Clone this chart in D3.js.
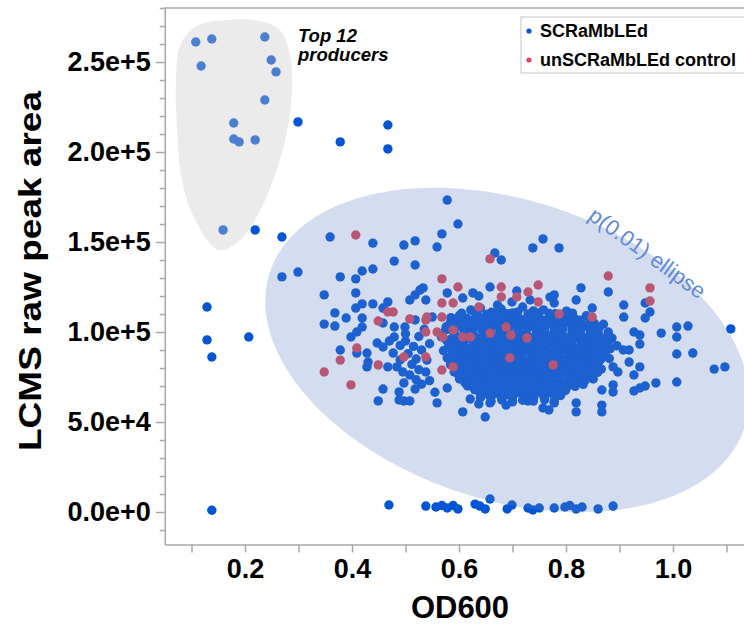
<!DOCTYPE html>
<html>
<head>
<meta charset="utf-8">
<script src="https://cdn.jsdelivr.net/npm/d3@7"></script>
<style>
html,body{margin:0;padding:0;background:#fff;}
svg{display:block;}
text{font-family:"Liberation Sans",Arial,Helvetica,sans-serif;}
</style>
</head>
<body>
<svg id="chart" width="744" height="628"></svg>
<script>
// ---------------- DATA ----------------
const xTickValues = [0.2, 0.4, 0.6, 0.8, 1.0];
const xTickLabels = ["0.2", "0.4", "0.6", "0.8", "1.0"];
const yTickValues = [0, 50000, 100000, 150000, 200000, 250000];
const yTickLabels = ["0.0e+0", "5.0e+4", "1.0e+5", "1.5e+5", "2.0e+5", "2.5e+5"];
const seriesNames = ["SCRaMbLEd", "unSCRaMbLEd control"];

// top 12 producers (SCRaMbLEd strains)
const topProducers = [
  [0.108,261100],[0.138,262800],[0.237,263900],[0.118,247800],[0.249,251100],[0.258,244500],
  [0.237,228900],[0.179,216100],[0.179,207200],[0.189,205600],[0.219,206700],[0.159,156700]
];

// remaining SCRaMbLEd strains: [OD600, LCMS raw peak area]
const scrambled = [
  // outliers
  [0.299,216700],[0.378,205600],[0.467,215000],[0.467,201700],[0.219,156700],[0.269,152800],
  [0.129,113900],[0.129,95600],[0.138,86100],[0.207,97200],[0.138,1000],
  // non-producers
  [0.469,3900],[0.538,3300],[0.557,2800],[0.568,3600],[0.578,2200],[0.589,3600],[0.598,1700],
  [0.630,4400],[0.639,3300],[0.649,1700],[0.658,7200],[0.690,1700],[0.699,3900],[0.729,2200],
  [0.738,1100],[0.750,2200],[0.778,2200],[0.798,2800],[0.807,3600],[0.819,1700],[0.830,2800],
  [0.860,1700],[0.888,3300],
  // upper sparse
  [0.578,173300],[0.598,160000],[0.568,154500],[0.559,147200],[0.757,151700],[0.738,146700],
  [0.787,146700],[0.667,143900],[0.679,140000],[0.359,152800],[0.439,149400],[0.497,148300],
  [0.518,150600],[0.479,139400],[0.518,137200],[0.439,135000],[0.419,133900],[0.407,129500],
  [0.378,130600],[0.299,133300],[0.269,130600],
  // left sparse
  [0.348,120600],[0.407,121700],[0.368,110600],[0.389,107800],[0.348,104400],[0.368,103300],
  [0.419,107800],[0.407,113300],[0.419,115600],[0.439,115600],[0.467,116700],[0.458,113300],
  [0.533,124500],[0.527,123300],[0.518,120600],[0.508,117800],[0.578,121700],[0.607,118900],
  [0.538,117800],[0.458,105000],[0.398,97200],[0.409,100000],[0.419,102800],[0.378,90000],
  [0.409,88300],[0.428,88300],[0.430,83300],[0.428,80600],[0.447,93900],[0.458,91700],
  [0.477,88300],[0.467,80600],[0.484,80600],[0.495,77800],[0.508,76100],[0.497,71700],
  [0.458,68300],[0.488,66700],[0.449,61700],[0.488,62200],[0.497,61700],[0.508,61700],
  [0.518,68300],[0.559,60600],[0.607,55600],[0.649,52800],[0.538,77800],[0.540,84400],
  [0.479,97200],[0.479,102800],[0.499,102800],[0.518,106700],[0.550,108300],[0.578,102800],
  [0.621,62800],[0.637,60000],[0.658,60600],[0.688,59400],[0.729,61700],[0.578,68900],
  [0.500,95000],[0.515,92000],[0.525,97500],[0.505,88000],[0.520,85000],[0.530,90000],
  [0.512,82000],[0.525,79000],[0.545,93500],[0.535,101500],[0.490,92500],[0.545,73000],
  [0.530,71000],[0.555,66500],[0.520,73500],[0.500,99000],[0.470,95000],[0.490,84500],
  [0.626,121700],[0.637,120000],[0.672,115000],[0.699,116700],[0.733,117800],[0.770,119400],
  [0.778,116100],
  // right sparse
  [0.658,125000],[0.708,122800],[0.828,124500],[0.819,117800],[0.849,113300],[0.879,122200],
  [0.948,116100],[0.957,111100],[0.948,107800],[0.908,115000],[0.908,108300],[0.778,120600],
  [1.108,101700],[0.978,99400],[1.007,102800],[1.028,103300],[1.007,97200],[1.007,87800],
  [1.037,88300],[1.077,79400],[1.097,80600],[1.007,72200],[0.968,71700],[0.948,70000],
  [0.938,68900],[0.927,67200],[0.927,76100],[0.938,80600],[0.918,83300],[0.918,90000],
  [0.938,93300],[0.927,100000],[0.938,98300],[0.907,90000],[0.888,80600],[0.897,77800],
  [0.888,70600],[0.888,66700],[0.867,67800],[0.867,59400],[0.867,55600],[0.819,60600],
  [0.819,55600],[0.757,57800],[0.768,56700],[0.778,60600],
  // dense core
  [0.622,112200],[0.640,113300],[0.661,111000],[0.679,112800],[0.700,110600],[0.719,113900],
  [0.739,111700],[0.758,112300],[0.780,110100],[0.801,111600],
  [0.605,110400],[0.630,110900],[0.652,109900],[0.671,110700],[0.690,110200],[0.710,111200],
  [0.729,110000],[0.749,110600],[0.769,110300],[0.790,109800],[0.812,110500],
  [0.585,108000],[0.601,109200],[0.615,107500],[0.636,108800],[0.649,107200],[0.668,109500],
  [0.683,107900],[0.703,108600],[0.716,107000],[0.736,109100],[0.750,107600],[0.770,108900],
  [0.784,107300],[0.803,108400],[0.818,107100],[0.838,109000],
  [0.592,106900],[0.608,105900],[0.626,106600],[0.643,106100],[0.660,106800],
  [0.675,105800],[0.694,106500],[0.710,106000],[0.727,106700],[0.743,105900],[0.760,106600],
  [0.777,106200],[0.795,106800],[0.811,105900],[0.828,106500],[0.846,106100],
  [0.584,105300],[0.599,103800],[0.618,104900],[0.633,103500],[0.652,105100],
  [0.666,104200],[0.686,103600],[0.700,105000],[0.719,104100],[0.734,103300],[0.752,105200],
  [0.767,104500],[0.787,103700],[0.801,105000],[0.820,104000],[0.835,103400],[0.853,104800],
  [0.870,104300],
  [0.576,102900],[0.592,101900],[0.610,102700],[0.626,102100],[0.644,102800],
  [0.660,101800],[0.677,102600],[0.693,102200],[0.709,102900],[0.727,101900],[0.743,102500],
  [0.760,102000],[0.778,102700],[0.794,101800],[0.812,102400],[0.828,102000],[0.844,102700],
  [0.862,102100],
  [0.575,101200],[0.590,99800],[0.609,100900],[0.624,100100],[0.642,101500],
  [0.657,100300],[0.676,99700],[0.691,101000],[0.710,100500],[0.725,99600],[0.744,101300],
  [0.759,100200],[0.777,99900],[0.792,101100],[0.811,100600],[0.826,99500],[0.845,100800],
  [0.860,101400],[0.879,100000],
  [0.593,98000],[0.610,98700],[0.628,98200],[0.645,98900],
  [0.660,98000],[0.678,98600],[0.694,98300],[0.711,98900],[0.727,97900],[0.745,98600],
  [0.761,98100],[0.778,98800],[0.795,97900],[0.812,98500],[0.829,98000],[0.846,98700],
  [0.862,98200],[0.879,98600],
  [0.567,97300],[0.584,95900],[0.600,96800],[0.617,97500],[0.634,96200],
  [0.650,96900],[0.668,95800],[0.683,97100],[0.701,96400],[0.717,95700],[0.735,97000],
  [0.750,96300],[0.769,97400],[0.784,95900],[0.802,96700],[0.818,97200],[0.836,96000],
  [0.852,96900],[0.870,95600],[0.886,96600],
  [0.577,95200],[0.593,94200],[0.610,94900],[0.627,94300],[0.644,95000],
  [0.660,94100],[0.677,94800],[0.693,94400],[0.710,95000],[0.727,94100],[0.744,94700],
  [0.760,94300],[0.777,95000],[0.794,94200],[0.811,94800],[0.828,94400],[0.845,94900],
  [0.861,94100],[0.879,94700],
  [0.591,92000],[0.607,93100],[0.626,92300],[0.641,93700],
  [0.659,92600],[0.674,91900],[0.693,93300],[0.708,92400],[0.727,93500],[0.742,92100],
  [0.761,92900],[0.776,93600],[0.794,92200],[0.810,92800],[0.828,93300],[0.843,92000],
  [0.862,92700],[0.877,93500],[0.895,92400],
  [0.580,91300],[0.597,90300],[0.614,91000],[0.631,90500],[0.648,91200],
  [0.664,90200],[0.681,90900],[0.698,90500],[0.715,91100],[0.731,90200],[0.748,90800],
  [0.765,90400],[0.782,91100],[0.798,90300],[0.815,90900],[0.832,90400],[0.849,91000],
  [0.866,90300],[0.883,90800],
  [0.571,89600],[0.588,88300],[0.605,89200],[0.622,88500],[0.640,89800],
  [0.655,88100],[0.673,89300],[0.689,88800],[0.707,87900],[0.722,89500],[0.740,88600],
  [0.756,89100],[0.774,88000],[0.789,89400],[0.807,88700],[0.823,88200],[0.841,89600],
  [0.857,88400],[0.874,89000],
  [0.599,86400],[0.616,87100],[0.633,86600],[0.650,87300],
  [0.667,86300],[0.684,87000],[0.701,86600],[0.718,87200],[0.735,86300],[0.752,86900],
  [0.769,86500],[0.786,87200],[0.803,86400],[0.820,87000],[0.837,86500],[0.854,87100],
  [0.871,86400],
  [0.578,85600],[0.596,84300],[0.612,85300],[0.630,84600],[0.645,85900],
  [0.663,84400],[0.679,85200],[0.697,84700],[0.712,85800],[0.731,84200],[0.746,85400],
  [0.765,84900],[0.780,85700],[0.798,84500],[0.814,85100],[0.831,84100],[0.847,85500],
  [0.865,84800],[0.881,85300],
  [0.589,83600],[0.606,82600],[0.623,83300],[0.640,82800],[0.657,83500],
  [0.674,82500],[0.691,83200],[0.708,82800],[0.725,83400],[0.742,82500],[0.759,83100],
  [0.776,82700],[0.793,83400],[0.810,82600],[0.827,83200],[0.844,82700],[0.861,83300],
  [0.584,81800],[0.600,80400],[0.617,81400],[0.634,80700],[0.650,81900],
  [0.668,80500],[0.684,81300],[0.702,80800],[0.717,81700],[0.736,80300],[0.751,81500],
  [0.769,80600],[0.785,81200],[0.803,80200],[0.818,81600],[0.836,80900],[0.852,81400],
  [0.612,78700],[0.629,79400],[0.646,78900],[0.663,79600],
  [0.680,78600],[0.697,79300],[0.714,78900],[0.731,79500],[0.748,78600],[0.765,79200],
  [0.782,78800],[0.799,79500],[0.816,78700],[0.833,79300],[0.850,78800],[0.866,79400],
  [0.591,77800],[0.608,76600],[0.624,77500],[0.642,76800],[0.657,78000],
  [0.675,76500],[0.691,77300],[0.709,76900],[0.724,77700],[0.743,76400],[0.758,77400],
  [0.776,76700],[0.792,77900],[0.810,76600],[0.825,77200],[0.843,76800],[0.859,77600],
  [0.600,75800],[0.617,74800],[0.634,75500],[0.651,75000],[0.668,75700],
  [0.685,74700],[0.702,75400],[0.719,75000],[0.736,75600],[0.753,74700],[0.770,75300],
  [0.787,74900],[0.804,75600],[0.821,74800],[0.838,75400],
  [0.601,73900],[0.619,72700],[0.635,73600],[0.652,72900],[0.668,74000],
  [0.686,72600],[0.702,73400],[0.720,73000],[0.735,73800],[0.753,72500],[0.769,73500],
  [0.787,72800],[0.803,73700],[0.820,72400],[0.836,73200],[0.851,73900],
  [0.611,71900],[0.628,70900],[0.645,71600],[0.662,71100],[0.679,71800],
  [0.696,70800],[0.713,71500],[0.730,71100],[0.747,71700],[0.764,70800],[0.781,71400],
  [0.798,71000],[0.815,71700],[0.832,70900],
  [0.616,70000],[0.633,68800],[0.649,69700],[0.667,69000],[0.683,70100],
  [0.700,68700],[0.716,69500],[0.734,69100],[0.750,69900],[0.768,68600],[0.784,69600],
  [0.801,69000],[0.817,69800],
  [0.629,68000],[0.646,67000],[0.663,67700],[0.680,67200],[0.697,67900],
  [0.714,66900],[0.731,67600],[0.748,67200],[0.765,67800],[0.782,66900],[0.799,67500],
  [0.639,66100],[0.656,64900],[0.672,65800],[0.690,65100],[0.706,66200],
  [0.724,64800],[0.740,65600],[0.757,65200],[0.773,66000],[0.790,64700],
  [0.640,63500],[0.660,64100],[0.680,63100],[0.700,63800],[0.720,63300],[0.740,63900],
  [0.760,63200],[0.780,63700],
  [0.660,61500],[0.680,62300],[0.700,61200],[0.719,62100],[0.739,61600],[0.760,62400],
  [0.778,61300]
];

// unSCRaMbLEd control strains
const control = [
  [0.407,153900],[0.568,129500],[0.598,125000],[0.658,140600],[0.679,125000],[0.679,119500],
  [0.708,119500],[0.729,122200],[0.748,126100],[0.748,116700],[0.879,131100],[0.957,124500],
  [0.957,117200],[0.849,108300],[0.787,110000],[0.776,81700],[0.568,116100],[0.589,116100],
  [0.568,108300],[0.538,106700],[0.538,100000],[0.559,100000],[0.570,97200],[0.589,101100],
  [0.607,97200],[0.621,97200],[0.658,99400],[0.688,102800],[0.697,98300],[0.727,96700],
  [0.695,85600],[0.589,80600],[0.568,78900],[0.538,86100],[0.637,113900],[0.540,108300],
  [0.508,107200],[0.497,86100],[0.467,111100],[0.477,111100],[0.449,106100],[0.409,91100],
  [0.378,84400],[0.348,77800],[0.398,70600],[0.449,81700]
];

// outline of the "top 12 producers" region [OD600, area]
const topHull = [
  [0.150,145600],[0.107,162200],[0.082,184500],[0.073,212200],[0.071,240000],[0.079,259500],
  [0.107,269500],[0.163,273300],[0.228,272800],[0.265,267800],[0.284,253900],[0.288,234500],
  [0.279,212200],[0.256,187200],[0.224,165000],[0.187,150000]
];

// p(0.01) normal-density ellipse parameters
const ellipseCenter = [0.69, 90000];
const ellipseSD = [0.149, 29700];
const ellipseRho = -0.30;
const ellipseP = 0.01;

// ---------------- CHART ----------------
const W = 744, H = 628;
const svg = d3.select("#chart");
const x = d3.scaleLinear().domain([0.05, 1.15]).range([164.75, 753.25]);
const y = d3.scaleLinear().domain([-18000, 280000]).range([544.4, 8.0]);
const plotL = x(0.05), plotT = y(280000), plotB = y(-18000);

const BLUE = "#0455d4", RED = "#d9475a";

svg.append("defs").append("clipPath").attr("id", "clip")
  .append("rect").attr("x", plotL).attr("y", plotT).attr("width", W - plotL).attr("height", plotB - plotT);

const plot = svg.append("g").attr("clip-path", "url(#clip)");

const R = 4.7;
plot.append("g").selectAll("circle").data(topProducers.concat(scrambled)).join("circle")
  .attr("cx", d => x(d[0])).attr("cy", d => y(d[1])).attr("r", R).attr("fill", BLUE);
plot.append("g").selectAll("circle").data(control).join("circle")
  .attr("cx", d => x(d[0])).attr("cy", d => y(d[1])).attr("r", R).attr("fill", RED);

// top-12 hull (overlay)
plot.append("path")
  .attr("d", d3.line().x(d => x(d[0])).y(d => y(d[1])).curve(d3.curveCatmullRomClosed.alpha(0.5))(topHull))
  .attr("fill", "#c8c8c8").attr("fill-opacity", 0.37);

// ellipse (overlay)
const k = Math.sqrt(-2 * Math.log(ellipseP));
const ellPts = d3.range(0, 360, 2).map(a => {
  const t = a * Math.PI / 180;
  return [ellipseCenter[0] + k * ellipseSD[0] * Math.cos(t),
          ellipseCenter[1] + k * ellipseSD[1] * (ellipseRho * Math.cos(t) + Math.sqrt(1 - ellipseRho * ellipseRho) * Math.sin(t))];
});
plot.append("path")
  .attr("d", d3.line().x(d => x(d[0])).y(d => y(d[1])).curve(d3.curveCardinalClosed)(ellPts))
  .attr("fill", "#6082c4").attr("fill-opacity", 0.27);

// annotations
plot.append("text").attr("transform", "translate(643,259) rotate(36)")
  .attr("text-anchor", "middle").attr("font-size", 22).attr("fill", "#5f88d8")
  .text("p(0.01) ellipse");

const ann = svg.append("text").attr("font-size", 18.5).attr("font-weight", "bold")
  .attr("font-style", "italic").attr("fill", "#000");
ann.append("tspan").attr("x", 298).attr("y", 42).text("Top 12");
ann.append("tspan").attr("x", 298).attr("y", 61).text("producers");

// axes
const axisColor = "#a8a8a8";
const yMinor = d3.range(-10000, 280001, 10000).filter(v => v % 50000 !== 0);
const xMinor = [0.1, 0.3, 0.5, 0.7, 0.9, 1.1];

const gy = svg.append("g").attr("transform", `translate(${plotL},0)`);
gy.call(d3.axisLeft(y).tickValues(yTickValues).tickSize(9).tickSizeOuter(0).tickPadding(5)
  .tickFormat((d, i) => yTickLabels[i]));
const gym = svg.append("g").attr("transform", `translate(${plotL},0)`);
gym.call(d3.axisLeft(y).tickValues(yMinor).tickSize(5).tickSizeOuter(0).tickFormat(""));
gym.select(".domain").remove();

const gx = svg.append("g").attr("transform", `translate(0,${plotB})`);
gx.call(d3.axisBottom(x).tickValues(xTickValues).tickSize(8).tickSizeOuter(0).tickPadding(6)
  .tickFormat((d, i) => xTickLabels[i]));
const gxm = svg.append("g").attr("transform", `translate(0,${plotB})`);
gxm.call(d3.axisBottom(x).tickValues(xMinor).tickSize(8).tickSizeOuter(0).tickFormat(""));
gxm.select(".domain").remove();

svg.selectAll(".domain, .tick line").attr("stroke", axisColor).attr("stroke-width", 1.5);
svg.selectAll(".tick text").attr("font-family", "'Liberation Sans',Arial,sans-serif")
  .attr("font-size", 27).attr("font-weight", "bold").attr("fill", "#000");

// top frame
svg.append("line").attr("x1", plotL - 1).attr("x2", W).attr("y1", plotT).attr("y2", plotT)
  .attr("stroke", axisColor).attr("stroke-width", 1.5);

// axis titles
svg.append("text").attr("x", 460).attr("y", 618).attr("text-anchor", "middle")
  .attr("font-size", 31).attr("font-weight", "bold").text("OD600");
svg.append("text").attr("transform", "translate(41,271) rotate(-90)").attr("text-anchor", "middle")
  .attr("font-size", 32).attr("font-weight", "bold")
  .attr("textLength", 360).attr("lengthAdjust", "spacingAndGlyphs").text("LCMS raw peak area");

// legend
const lg = svg.append("g");
lg.append("rect").attr("x", 521).attr("y", 17).attr("width", 260).attr("height", 56)
  .attr("fill", "#fff").attr("stroke", "#cfcfcf").attr("stroke-width", 1.2);
[BLUE, "#e0455f"].forEach((c, i) => {
  lg.append("circle").attr("cx", 529).attr("cy", 31 + i * 29).attr("r", 2.6).attr("fill", c);
  lg.append("text").attr("x", 540).attr("y", 37 + i * 29).attr("font-size", 18)
    .attr("font-weight", "bold").attr("fill", "#000").text(seriesNames[i]);
});
</script>
</body>
</html>
